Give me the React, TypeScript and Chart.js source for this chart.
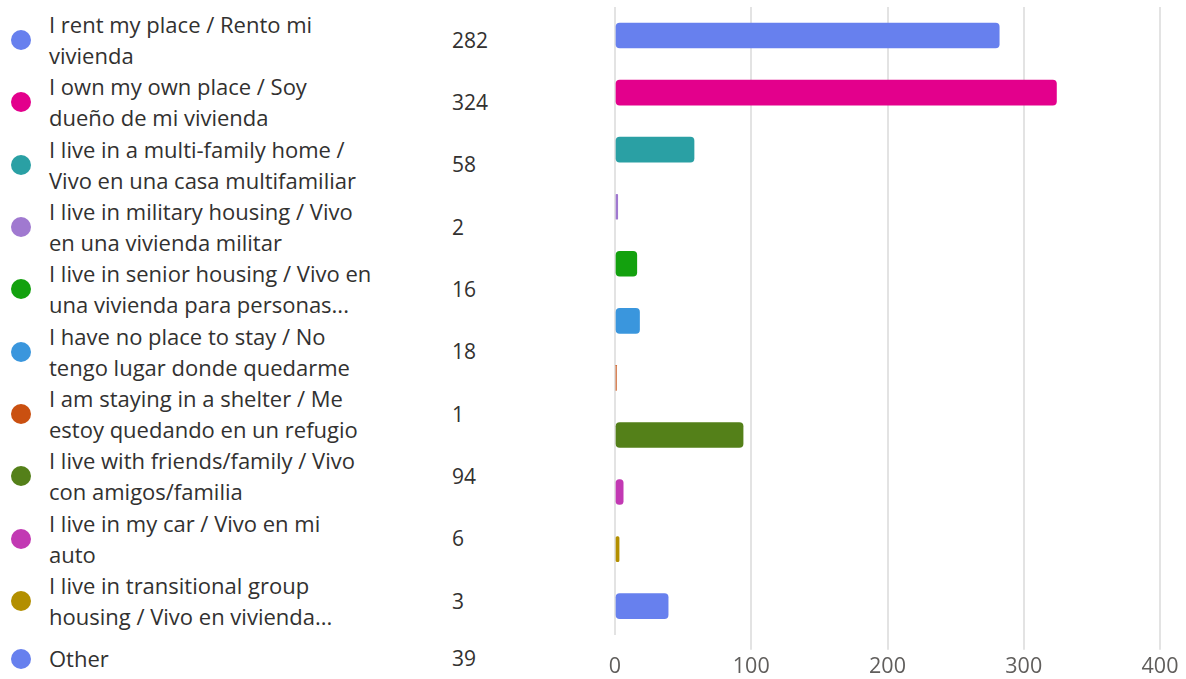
import React, { useEffect, useRef } from "react";
import { Chart, registerables } from "chart.js";

Chart.register(...registerables);

const categories: string[] = [
  "I rent my place / Rento mi\nvivienda",
  "I own my own place / Soy\ndueño de mi vivienda",
  "I live in a multi-family home /\nVivo en una casa multifamiliar",
  "I live in military housing / Vivo\nen una vivienda militar",
  "I live in senior housing / Vivo en\nuna vivienda para personas...",
  "I have no place to stay / No\ntengo lugar donde quedarme",
  "I am staying in a shelter / Me\nestoy quedando en un refugio",
  "I live with friends/family / Vivo\ncon amigos/familia",
  "I live in my car / Vivo en mi\nauto",
  "I live in transitional group\nhousing / Vivo en vivienda...",
  "Other",
];

const counts: number[] = [282, 324, 58, 2, 16, 18, 1, 94, 6, 3, 39];

const colors: string[] = [
  "#6780EE",
  "#E3008C",
  "#2AA0A4",
  "#A079D0",
  "#13A10E",
  "#3A96DD",
  "#CA5010",
  "#548019",
  "#C239B3",
  "#B38F00",
  "#6780EE",
];

const xTicks: number[] = [0, 100, 200, 300, 400];

const FONT = "'Open Sans', 'Noto Sans', sans-serif";
const TEXT = "#323130";

export default function App() {
  const canvasRef = useRef<HTMLCanvasElement | null>(null);

  useEffect(() => {
    if (!canvasRef.current) return;
    const chart = new Chart(canvasRef.current, {
      type: "bar",
      data: {
        labels: categories,
        datasets: [
          {
            data: counts,
            backgroundColor: colors,
            borderRadius: 4,
            borderSkipped: false,
            barThickness: 25,
          },
        ],
      },
      options: {
        indexAxis: "y",
        animation: false,
        responsive: true,
        maintainAspectRatio: false,
        layout: { padding: { left: 15, right: 26, top: 7, bottom: 6.5 } },
        plugins: { legend: { display: false }, tooltip: { enabled: false } },
        scales: {
          y: { display: false },
          x: {
            min: xTicks[0],
            max: xTicks[xTicks.length - 1],
            afterBuildTicks: (scale: any) => {
              scale.ticks = xTicks.map((v) => ({ value: v }));
            },
            border: { display: false },
            grid: {
              color: "#e3e3e3",
              lineWidth: 2,
              tickLength: 15,
              tickColor: (ctx: any) => (ctx.index === 0 ? "rgba(0,0,0,0)" : "#e3e3e3"),
            },
            ticks: {
              color: "#605e5c",
              padding: 4,
              font: { family: FONT, size: 21.5 },
            },
          },
        },
      },
    });
    return () => chart.destroy();
  }, []);

  return (
    <div
      style={{
        position: "fixed",
        left: 0,
        top: 0,
        width: 1186,
        height: 679,
        background: "#fff",
        fontFamily: FONT,
        color: TEXT,
        overflow: "hidden",
      }}
    >
      {categories.map((label, i) => {
        const lines = label.split("\n").length;
        const cy = 40 + i * 62.35 - (lines === 1 ? 5 : 0);
        return (
          <React.Fragment key={i}>
            <div
              style={{
                position: "absolute",
                left: 11,
                top: cy - 10,
                width: 20,
                height: 20,
                borderRadius: "50%",
                background: colors[i],
              }}
            />
            <div
              style={{
                position: "absolute",
                left: 49,
                top: cy - (lines * 31) / 2,
                fontSize: 22,
                lineHeight: "31px",
                whiteSpace: "pre",
              }}
            >
              {label}
            </div>
            <div
              style={{
                position: "absolute",
                left: 452,
                top: cy - 15.5,
                fontSize: 21,
                lineHeight: "31px",
              }}
            >
              {counts[i]}
            </div>
          </React.Fragment>
        );
      })}
      <div style={{ position: "absolute", left: 600, top: 0, width: 586, height: 690 }}>
        <canvas ref={canvasRef} />
      </div>
    </div>
  );
}
